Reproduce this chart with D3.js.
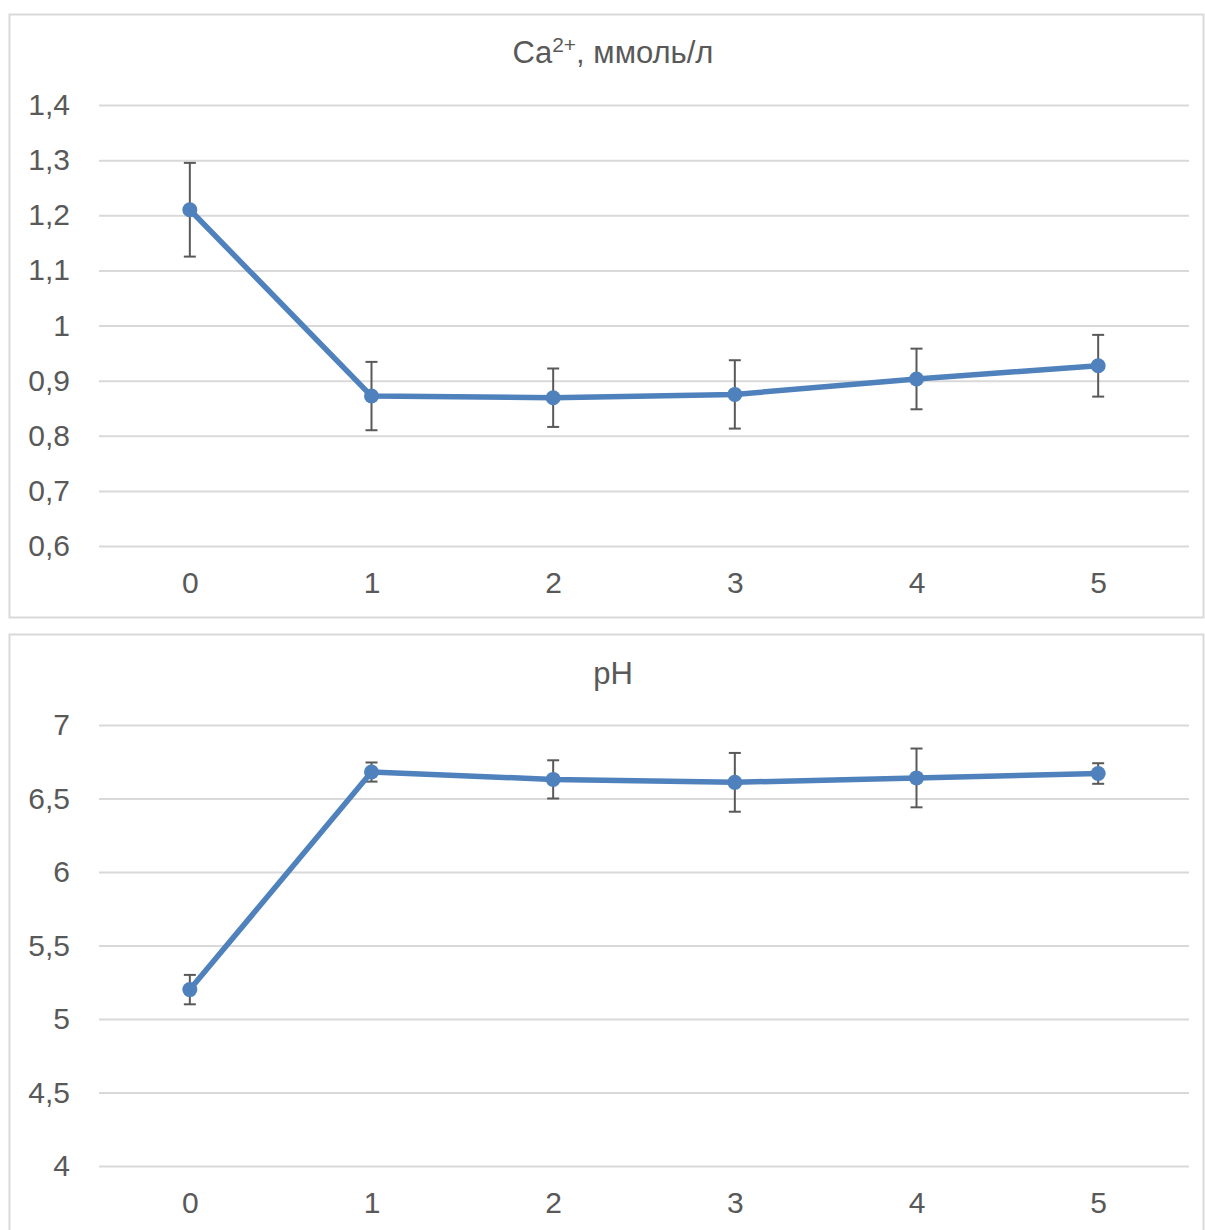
<!DOCTYPE html>
<html>
<head>
<meta charset="utf-8">
<script src="https://cdn.jsdelivr.net/npm/d3@7"></script>
<style>
  html, body { margin: 0; padding: 0; background: #fff; }
  svg { display: block; font-family: "Liberation Sans", Arial, sans-serif; }
</style>
</head>
<body>
<svg id="chart" width="1205" height="1230"></svg>
<script>
// Time points (x categories)
const categories = ["0", "1", "2", "3", "4", "5"];

// Ca2+ concentration, mmol/l, with error half-widths
const caValues = [1.21, 0.872, 0.869, 0.875, 0.903, 0.927];
const caErrors = [0.085, 0.062, 0.053, 0.062, 0.055, 0.056];
const caTicks = [0.6, 0.7, 0.8, 0.9, 1.0, 1.1, 1.2, 1.3, 1.4];

// pH, with error half-widths
const phValues = [5.2, 6.68, 6.63, 6.61, 6.64, 6.67];
const phErrors = [0.1, 0.065, 0.13, 0.2, 0.2, 0.07];
const phTicks = [4, 4.5, 5, 5.5, 6, 6.5, 7];

const ruLocale = d3.formatLocale({ decimal: ",", thousands: " ", grouping: [3], currency: ["", ""] });
const fmt = ruLocale.format("~g");

const svg = d3.select("#chart");
const lineColor = "#4f81bd";
const textColor = "#595959";
const gridColor = "#d9d9d9";
const labelSize = 30;
const titleSize = 31;

function drawPanel(cfg) {
  const g = svg.append("g");

  // frame
  g.append("rect")
    .attr("x", cfg.box[0] + 0.5).attr("y", cfg.box[1] + 0.5)
    .attr("width", cfg.box[2]).attr("height", cfg.box[3])
    .attr("fill", "#fff").attr("stroke", gridColor).attr("stroke-width", 2);

  const x = d3.scalePoint().domain(categories).range([cfg.left, cfg.right]).padding(0.5);
  const y = d3.scaleLinear().domain(cfg.domain).range([cfg.bottom, cfg.top]);

  // horizontal gridlines + y labels
  const yAxis = d3.axisLeft(y).tickValues(cfg.ticks).tickFormat(fmt)
    .tickSize(-(cfg.right - cfg.left)).tickPadding(29);
  const ya = g.append("g").attr("transform", `translate(${cfg.left},0)`).call(yAxis);
  ya.select(".domain").remove();
  ya.selectAll(".tick line").attr("stroke", gridColor).attr("stroke-width", 2);
  ya.selectAll(".tick text").attr("fill", textColor).attr("font-size", labelSize)
    .attr("font-family", "Liberation Sans, Arial, sans-serif");

  // x labels
  const xAxis = d3.axisBottom(x).tickSize(0).tickPadding(cfg.xPad);
  const xa = g.append("g").attr("transform", `translate(0,${cfg.bottom})`).call(xAxis);
  xa.select(".domain").remove();
  xa.selectAll(".tick text").attr("fill", textColor).attr("font-size", labelSize)
    .attr("font-family", "Liberation Sans, Arial, sans-serif");

  const pts = categories.map((c, i) => ({ c, v: cfg.values[i], e: cfg.errors[i] }));

  // error bars
  const eb = g.append("g").attr("stroke", textColor).attr("stroke-width", 2).attr("fill", "none");
  pts.forEach(p => {
    const cx = x(p.c), y1 = y(p.v + p.e), y2 = y(p.v - p.e);
    eb.append("line").attr("x1", cx).attr("x2", cx).attr("y1", y1).attr("y2", y2);
    eb.append("line").attr("x1", cx - 6).attr("x2", cx + 6).attr("y1", y1).attr("y2", y1);
    eb.append("line").attr("x1", cx - 6).attr("x2", cx + 6).attr("y1", y2).attr("y2", y2);
  });

  // series line
  g.append("path")
    .datum(pts)
    .attr("fill", "none").attr("stroke", lineColor).attr("stroke-width", 5.5)
    .attr("stroke-linejoin", "round")
    .attr("d", d3.line().x(d => x(d.c)).y(d => y(d.v)));

  // markers
  g.selectAll("circle.m").data(pts).enter().append("circle")
    .attr("class", "m")
    .attr("cx", d => x(d.c)).attr("cy", d => y(d.v)).attr("r", 7.5)
    .attr("fill", lineColor);

  // title
  const t = g.append("text")
    .attr("x", cfg.titleX).attr("y", cfg.titleY)
    .attr("text-anchor", "middle").attr("fill", textColor).attr("font-size", titleSize);
  cfg.title(t);
}

drawPanel({
  box: [9, 14, 1194, 603],
  left: 99, right: 1189, top: 105, bottom: 546,
  domain: [0.6, 1.4], ticks: caTicks,
  values: caValues, errors: caErrors,
  xPad: 26,
  titleX: 613, titleY: 63,
  title: t => {
    t.append("tspan").text("Ca");
    t.append("tspan").attr("font-size", 21).attr("dy", -11).text("2+");
    t.append("tspan").attr("dy", 11).text(", ммоль/л");
  }
});

drawPanel({
  box: [9, 634, 1194, 620],
  left: 99, right: 1189, top: 725, bottom: 1166,
  domain: [4, 7], ticks: phTicks,
  values: phValues, errors: phErrors,
  xPad: 26,
  titleX: 613, titleY: 684,
  title: t => t.text("pH")
});
</script>
</body>
</html>
